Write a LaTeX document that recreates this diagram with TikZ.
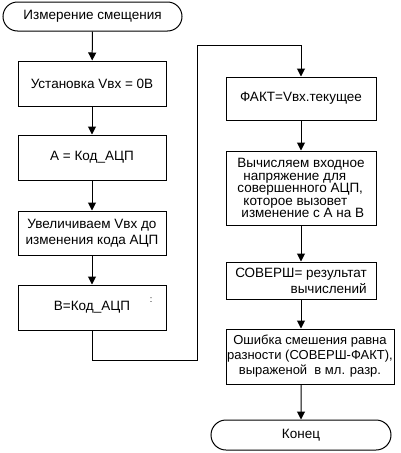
\documentclass[tikz,border=0pt]{standalone}
\usepackage{fontspec}
\setmainfont{Liberation Sans}
\usetikzlibrary{arrows.meta,shapes.misc}

\tikzset{
  block/.style={draw, line width=1pt, align=center, inner sep=0pt,
    font=\fontsize{13.5}{16}\selectfont},
  term/.style={block, rounded rectangle},
  flow/.style={line width=1pt, -{Triangle[width=8pt,length=8pt]}},
}

\begin{document}
\begin{tikzpicture}[x=1pt,y=-1pt]
  \useasboundingbox (0,0) rectangle (400,453);
  % left column
  \node[term, minimum width=179, minimum height=29] (start) at (92.5,16.5) {Измерение смещения};
  \node[block, minimum width=148, minimum height=45] (setv) at (92,83.5) {Установка Vвх = 0В};
  \node[block, minimum width=148, minimum height=45] (codea) at (92,157.5) {А = Код\_АЦП};
  \node[block, minimum width=148, minimum height=44] (incv) at (92,233) {Увеличиваем Vвх до\\изменения кода АЦП};
  \node[block, minimum width=148, minimum height=45] (codeb) at (92,307.5) {В=Код\_АЦП};
  \node[font=\fontsize{9}{9}\selectfont, inner sep=0pt] (colon) at (151,300) {:};
  % right column
  \node[block, minimum width=150, minimum height=43] (fact) at (301,98.5) {ФАКТ=Vвх.текущее};
  \node[block, minimum width=150, minimum height=74, align=left,
    font=\fontsize{13.5}{12.5}\selectfont] (calc) at (301,188)
    {Вычисляем входное\\\hspace*{6pt}напряжение для\\совершенного АЦП,\\\hspace*{6pt}которое вызовет\\\hspace*{4pt}изменение с А на В};
  \node[block, minimum width=150, minimum height=37, align=right] (perf) at (301,280.5) {СОВЕРШ= результат\\вычислений};
  \node[block, minimum width=168, minimum height=55, font=\fontsize{13}{15}\selectfont] (err) at (310,356.5) {Ошибка смешения равна\\разности (СОВЕРШ-ФАКТ),\\выраженой \ в мл. разр.};
  \node[term, minimum width=180, minimum height=30] (stop) at (301,435) {Конец};
  % loop from left to right column
  \coordinate (loopa) at (197,360);
  \coordinate (loopb) at (197,45);

  \draw[flow] (start) -- (setv);
  \draw[flow] (setv) -- (codea);
  \draw[flow] (codea) -- (incv);
  \draw[flow] (incv) -- (codeb);
  \draw[flow] (codeb.south) |- (loopa) -- (loopb) -| (fact.north);
  \draw[flow] (fact) -- (calc);
  \draw[flow] (calc) -- (perf);
  \draw[flow] (perf.south) -- (perf.south |- err.north);
  \draw[flow] (perf.south |- err.south) -- (stop);
\end{tikzpicture}
\end{document}
